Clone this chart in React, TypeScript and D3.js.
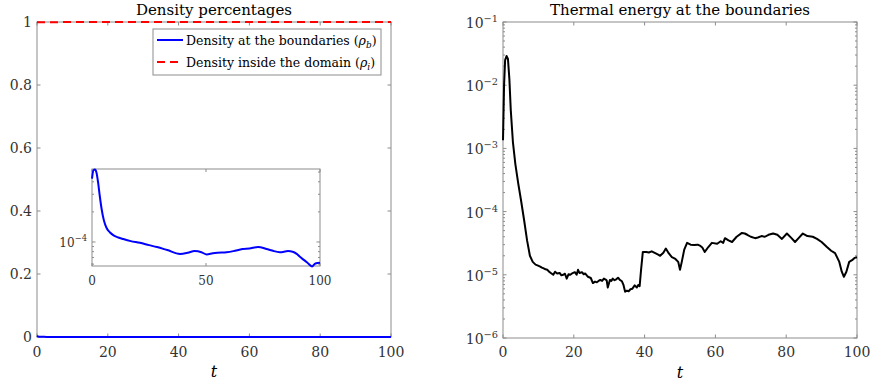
import React from 'react';
import * as d3 from 'd3';

const W = 871;
const H = 385;
const FONT = 'DejaVu Serif';
const AXIS = '#8c8c8c';
const LABEL = '#333333';

// density at the boundaries (rho_b)
const densityT = [0, 0.6, 1.3, 2.0, 2.7, 3.4, 4.2, 5.2, 6.4, 7.8, 9.3, 11.5, 13.7, 17, 21, 25, 28.5, 33, 38.6, 42, 45, 48, 50.3, 53, 55, 59, 62, 66, 69, 72.8, 76.6, 79, 82.4, 86, 88, 89.8, 91.2, 92.6, 94.5, 96.5, 98, 100];
const densityB = [4.3e-4, 5.2e-4, 5.3e-4, 4.9e-4, 3.9e-4, 2.9e-4, 2.15e-4, 1.65e-4, 1.38e-4, 1.25e-4, 1.17e-4, 1.11e-4, 1.07e-4, 1.02e-4, 9.8e-5, 9.3e-5, 8.9e-5, 8.3e-5, 7.6e-5, 7.8e-5, 8.1e-5, 7.9e-5, 7.5e-5, 7.7e-5, 7.8e-5, 7.9e-5, 8.1e-5, 8.5e-5, 8.6e-5, 8.9e-5, 8.5e-5, 8.2e-5, 7.9e-5, 8.1e-5, 8.0e-5, 7.6e-5, 7.1e-5, 6.7e-5, 6.2e-5, 5.7e-5, 6.1e-5, 6.2e-5];

// density inside the domain (rho_i)
const insideT = [0, 25, 50, 75, 100];
const insideI = [0.9995, 0.9999, 0.9999, 0.9999, 0.9999];

// thermal energy at the boundaries
const thermalT = [0, 0.3, 0.6, 1.0, 1.4, 1.8, 2.2, 2.8, 3.5, 4.3, 5.1, 6.0, 6.8, 7.6, 8.4, 9.2, 9.9, 10.5, 11.0, 11.5, 12.0, 12.5, 13.0, 13.5, 14.2, 14.7, 15.3, 16, 16.5, 17, 17.5, 18, 18.5, 19.0, 19.5, 20.3, 20.8, 21.2, 21.6, 22.3, 22.8, 23.2, 24, 24.8, 25.4, 26.0, 26.5, 27.0, 27.5, 28.0, 28.5, 29.0, 29.3, 29.6, 30.2, 30.6, 31, 31.5, 32, 32.5, 33, 33.6, 34.0, 34.5, 35.0, 35.5, 36.0, 36.5, 37.2, 37.8, 38.2, 38.6, 39.0, 39.5, 40.5, 41.2, 42, 43, 43.7, 44.4, 45.3, 46, 46.8, 47.7, 48.7, 49.5, 50, 50.5, 51.2, 52, 53, 54, 55.0, 55.6, 56.3, 57, 58, 59, 60.5, 61.5, 62.2, 62.7, 63.7, 64.7, 66, 67.5, 68.3, 69, 70.0, 71.2, 72.0, 73, 74.0, 75, 76.3, 77.5, 78.8, 80.2, 81.5, 82.5, 83.5, 84.7, 86, 87.5, 88.7, 90, 91.5, 92.7, 93.8, 95, 95.7, 96.3, 97, 97.8, 98.6, 99.3, 100];
const thermalE = [1.35e-3, 1.0e-2, 2.5e-2, 2.9e-2, 2.6e-2, 1.26e-2, 4.0e-3, 1.26e-3, 5.6e-4, 2.8e-4, 1.5e-4, 7.1e-5, 3.5e-5, 2.0e-5, 1.6e-5, 1.45e-5, 1.4e-5, 1.35e-5, 1.3e-5, 1.26e-5, 1.22e-5, 1.2e-5, 1.12e-5, 1.07e-5, 1.0e-5, 1.12e-5, 1.05e-5, 1.07e-5, 9.8e-6, 1.0e-5, 1.04e-5, 8.7e-6, 1.02e-5, 1.0e-5, 1.05e-5, 1.1e-5, 1.0e-5, 1.2e-5, 1.07e-5, 1.1e-5, 1.02e-5, 1.05e-5, 9.3e-6, 8.9e-6, 7.4e-6, 7.8e-6, 7.6e-6, 8.0e-6, 8.3e-6, 8.0e-6, 8.7e-6, 8.4e-6, 8.1e-6, 6.3e-6, 8.3e-6, 8.0e-6, 8.7e-6, 8.2e-6, 8.5e-6, 9.0e-6, 8.3e-6, 7.9e-6, 7.0e-6, 5.4e-6, 5.6e-6, 5.5e-6, 5.9e-6, 6.0e-6, 6.8e-6, 6.3e-6, 6.9e-6, 6.6e-6, 1.2e-5, 2.3e-5, 2.3e-5, 2.25e-5, 2.35e-5, 2.2e-5, 2.1e-5, 2.0e-5, 2.24e-5, 2.6e-5, 2.2e-5, 1.9e-5, 1.78e-5, 1.6e-5, 1.2e-5, 1.6e-5, 2.5e-5, 3.2e-5, 3.0e-5, 2.95e-5, 3.0e-5, 2.9e-5, 2.7e-5, 2.3e-5, 2.75e-5, 3.2e-5, 3.1e-5, 3.4e-5, 3.2e-5, 3.8e-5, 3.5e-5, 3.3e-5, 4.0e-5, 4.6e-5, 4.5e-5, 4.3e-5, 4.0e-5, 3.8e-5, 3.9e-5, 4.1e-5, 4.0e-5, 4.3e-5, 4.5e-5, 4.3e-5, 3.7e-5, 4.5e-5, 3.8e-5, 3.3e-5, 3.8e-5, 4.5e-5, 4.1e-5, 4.0e-5, 3.7e-5, 3.3e-5, 2.75e-5, 2.4e-5, 2.2e-5, 1.6e-5, 1.12e-5, 9.3e-6, 1.12e-5, 1.6e-5, 1.7e-5, 1.85e-5, 1.9e-5];

const tTicks = [0, 20, 40, 60, 80, 100];
const densityTicks = [0, 0.2, 0.4, 0.6, 0.8, 1];
const insetTTicks = [0, 50, 100];

const Pow10 = ({ x, y, exp, size = 14 }: { x: number; y: number; exp: number; size?: number }) => (
  <text x={x} y={y} textAnchor="end" fontFamily={FONT} fontSize={size} fill={LABEL}>
    10<tspan dy={-6} fontSize={size * 0.7}>{'\u2212' + Math.abs(exp)}</tspan>
  </text>
);

const LeftPanel = () => {
  const x = d3.scaleLinear().domain([0, 100]).range([37, 391]);
  const y = d3.scaleLinear().domain([0, 1]).range([337, 22]);
  const [x0, x1] = x.range();
  const [y0, y1] = y.range();

  const blue = d3.line<number>().x((_d, i) => x(densityT[i])).y(d => y(d));
  const red = d3.line<number>().x((_d, i) => x(insideT[i])).y(d => y(d));

  return (
    <g>
      <rect x={x0} y={y1} width={x1 - x0} height={y0 - y1} fill="none" stroke={AXIS} strokeWidth={1} />
      {tTicks.map(t => (
        <g key={t}>
          <line x1={x(t)} x2={x(t)} y1={y0} y2={y0 - 3.5} stroke={AXIS} />
          <line x1={x(t)} x2={x(t)} y1={y1} y2={y1 + 3.5} stroke={AXIS} />
          <text x={x(t)} y={357} textAnchor="middle" fontFamily={FONT} fontSize={14} fill={LABEL}>{t}</text>
        </g>
      ))}
      {densityTicks.map(v => (
        <g key={v}>
          <line x1={x0} x2={x0 + 3.5} y1={y(v)} y2={y(v)} stroke={AXIS} />
          <line x1={x1} x2={x1 - 3.5} y1={y(v)} y2={y(v)} stroke={AXIS} />
          <text x={x0 - 5} y={y(v) + 5} textAnchor="end" fontFamily={FONT} fontSize={14} fill={LABEL}>{v}</text>
        </g>
      ))}
      <path d={blue([0.003, ...densityB.slice(1)]) || ''} fill="none" stroke="#0000ff" strokeWidth={2} />
      <path d={red(insideI) || ''} fill="none" stroke="#ff0000" strokeWidth={2} strokeDasharray="8,5" />
      <text x={(x0 + x1) / 2} y={15} textAnchor="middle" fontFamily={FONT} fontSize={15} fill="#000">Density percentages</text>
      <text x={(x0 + x1) / 2} y={377} textAnchor="middle" fontFamily={FONT} fontSize={16} fontStyle="italic" fill="#000">t</text>

      {/* legend */}
      <rect x={153} y={29} width={228} height={46} fill="#fff" stroke={AXIS} />
      <line x1={157} x2={183} y1={40} y2={40} stroke="#0000ff" strokeWidth={2} />
      <line x1={157} x2={183} y1={62} y2={62} stroke="#ff0000" strokeWidth={2} strokeDasharray="8,5" />
      <text x={186} y={44.5} fontFamily={FONT} fontSize={12.5} fill="#000">
        Density at the boundaries (<tspan fontStyle="italic">ρ</tspan><tspan fontStyle="italic" fontSize={9} dy={3}>b</tspan><tspan dy={-3}>)</tspan>
      </text>
      <text x={186} y={66.5} fontFamily={FONT} fontSize={12.5} fill="#000">
        Density inside the domain (<tspan fontStyle="italic">ρ</tspan><tspan fontStyle="italic" fontSize={9} dy={3}>i</tspan><tspan dy={-3}>)</tspan>
      </text>
      <Inset />
    </g>
  );
};

const Inset = () => {
  const x = d3.scaleLinear().domain([0, 100]).range([92, 320]);
  const y = d3.scaleLog().domain([5.75e-5, 5.37e-4]).range([266, 169]);
  const [x0, x1] = x.range();
  const [y0, y1] = y.range();
  const minor = y.ticks();
  const line = d3.line<number>().x((_d, i) => x(densityT[i])).y(d => y(d)).curve(d3.curveMonotoneX);

  return (
    <g>
      <rect x={x0} y={y1} width={x1 - x0} height={y0 - y1} fill="#fff" stroke={AXIS} />
      {insetTTicks.map(t => (
        <g key={t}>
          <line x1={x(t)} x2={x(t)} y1={y0} y2={y0 - 3} stroke={AXIS} />
          <line x1={x(t)} x2={x(t)} y1={y1} y2={y1 + 3} stroke={AXIS} />
          <text x={x(t)} y={285} textAnchor="middle" fontFamily={FONT} fontSize={12} fill={LABEL}>{t}</text>
        </g>
      ))}
      {minor.map(v => {
        const major = Math.abs(Math.log10(v) - Math.round(Math.log10(v))) < 1e-6;
        const len = major ? 3.5 : 2;
        return (
          <g key={v}>
            <line x1={x0} x2={x0 + len} y1={y(v)} y2={y(v)} stroke={AXIS} />
            <line x1={x1} x2={x1 - len} y1={y(v)} y2={y(v)} stroke={AXIS} />
            {major && <Pow10 x={x0 - 5} y={y(v) + 5} exp={Math.round(Math.log10(v))} size={12} />}
          </g>
        );
      })}
      <path d={line(densityB) || ''} fill="none" stroke="#0000ff" strokeWidth={2} />
    </g>
  );
};

const RightPanel = () => {
  const x = d3.scaleLinear().domain([0, 100]).range([503, 857]);
  const y = d3.scaleLog().domain([1e-6, 1e-1]).range([338, 22]);
  const [x0, x1] = x.range();
  const [y0, y1] = y.range();
  const yTicks = y.ticks();
  const line = d3.line<number>().x((_d, i) => x(thermalT[i])).y(d => y(d));

  return (
    <g>
      <rect x={x0} y={y1} width={x1 - x0} height={y0 - y1} fill="none" stroke={AXIS} />
      {tTicks.map(t => (
        <g key={t}>
          <line x1={x(t)} x2={x(t)} y1={y0} y2={y0 - 3.5} stroke={AXIS} />
          <line x1={x(t)} x2={x(t)} y1={y1} y2={y1 + 3.5} stroke={AXIS} />
          <text x={x(t)} y={357} textAnchor="middle" fontFamily={FONT} fontSize={14} fill={LABEL}>{t}</text>
        </g>
      ))}
      {yTicks.map(v => {
        const major = Math.abs(Math.log10(v) - Math.round(Math.log10(v))) < 1e-6;
        const len = major ? 3.5 : 2;
        return (
          <g key={v}>
            <line x1={x0} x2={x0 + len} y1={y(v)} y2={y(v)} stroke={AXIS} />
            <line x1={x1} x2={x1 - len} y1={y(v)} y2={y(v)} stroke={AXIS} />
            {major && <Pow10 x={x0 - 5} y={y(v) + 6} exp={Math.round(Math.log10(v))} />}
          </g>
        );
      })}
      <path d={line(thermalE) || ''} fill="none" stroke="#000" strokeWidth={2} strokeLinejoin="round" />
      <text x={(x0 + x1) / 2} y={15} textAnchor="middle" fontFamily={FONT} fontSize={15} fill="#000">Thermal energy at the boundaries</text>
      <text x={(x0 + x1) / 2} y={378} textAnchor="middle" fontFamily={FONT} fontSize={16} fontStyle="italic" fill="#000">t</text>
    </g>
  );
};

export default function App() {
  return (
    <svg width={W} height={H} style={{ position: 'absolute', left: 0, top: 0, background: '#fff' }}>
      <rect width={W} height={H} fill="#fff" />
      <LeftPanel />
      <RightPanel />
    </svg>
  );
}
